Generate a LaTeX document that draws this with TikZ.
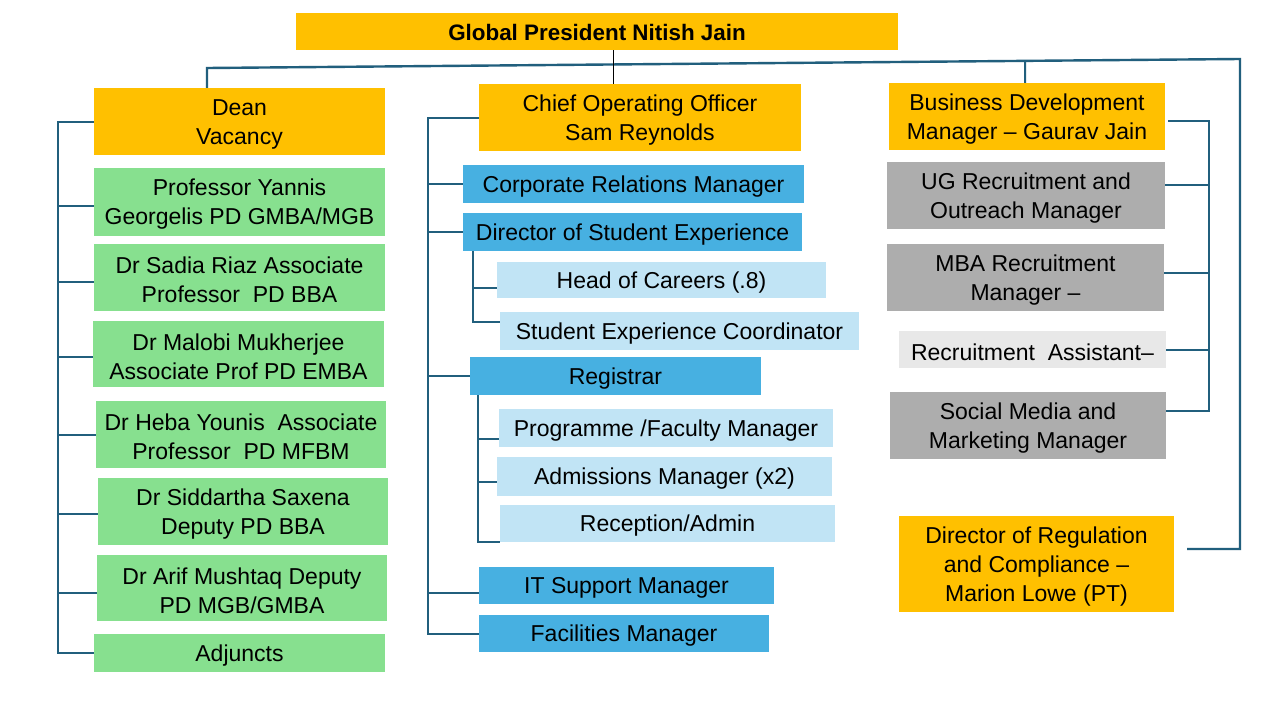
\documentclass[tikz,border=0pt]{standalone}
\usepackage{fontspec}
\setmainfont{Liberation Sans}
\usetikzlibrary{calc}
\definecolor{orgorange}{RGB}{255,192,0}
\definecolor{orggreen}{RGB}{135,224,143}
\definecolor{orgblue}{RGB}{71,176,225}
\definecolor{orglblue}{RGB}{193,228,245}
\definecolor{orggrey}{RGB}{173,173,173}
\definecolor{orglgrey}{RGB}{232,232,232}
\definecolor{orgline}{RGB}{33,95,125}
\newcommand\orgbox[7]{\node[box,#6,minimum width={#4-#2},minimum height={#5-#3},
  label={[boxtext]center:{#7}}] (#1) at ({(#2+#4)/2},{(#3+#5)/2}) {};}
\tikzset{
  box/.style={draw=none,inner sep=0pt},
  boxtext/.style={inner sep=0pt,align=center,yshift=-2.5pt,font=\fontsize{23}{29}\selectfont},
  titletext/.style={inner sep=0pt,align=center,yshift=-0.5pt,font=\fontsize{22.4}{27}\selectfont\bfseries},
  orange/.style={fill=orgorange},
  green/.style={fill=orggreen},
  blue/.style={fill=orgblue},
  lblue/.style={fill=orglblue},
  grey/.style={fill=orggrey},
  lgrey/.style={fill=orglgrey},
  conn/.style={draw=orgline,line width=2pt},
  topconn/.style={draw=orgline,line width=2.4pt},
  thinconn/.style={draw=black,line width=1pt}
}
\begin{document}
\begin{tikzpicture}[x=1pt,y=-1pt]
\useasboundingbox[fill=white] (0,0) rectangle (1280,720);
% top
\node[box,orange,minimum width=602,minimum height=37,label={[titletext]center:Global President Nitish Jain}] (pres) at (597,31.5) {};
% left column
\orgbox{dean}{94}{88}{385}{155}{orange}{Dean\\Vacancy}
\orgbox{yannis}{94}{168}{385}{236}{green}{Professor Yannis\\Georgelis PD GMBA/MGB}
\orgbox{sadia}{94}{244}{385}{311}{green}{Dr Sadia Riaz Associate\\Professor\ \ PD BBA}
\orgbox{malobi}{93}{321}{384}{387}{green}{Dr Malobi Mukherjee\\Associate Prof PD EMBA}
\orgbox{heba}{96}{401}{386}{468}{green}{Dr Heba Younis\ \ Associate\\Professor\ \ PD MFBM}
\orgbox{sidd}{98}{478}{388}{545}{green}{Dr Siddartha Saxena\\Deputy PD BBA}
\orgbox{arif}{97}{555}{387}{621}{green}{Dr Arif Mushtaq Deputy\\PD MGB/GMBA}
\orgbox{adj}{94}{634}{385}{672}{green}{Adjuncts}
% middle column
\orgbox{coo}{479}{84}{801}{151}{orange}{Chief Operating Officer\\Sam Reynolds}
\orgbox{corp}{463}{165}{804}{203}{blue}{Corporate Relations Manager}
\orgbox{dse}{463}{213}{802}{251}{blue}{Director of Student Experience}
\orgbox{hoc}{497}{262}{826}{298}{lblue}{Head of Careers (.8)}
\orgbox{sec}{500}{312}{859}{350}{lblue}{Student Experience Coordinator}
\orgbox{reg}{470}{357}{761}{395}{blue}{Registrar}
\orgbox{prog}{499}{409}{833}{447}{lblue}{Programme /Faculty Manager}
\orgbox{adm}{497}{457}{832}{496}{lblue}{Admissions Manager (x2)}
\orgbox{rec}{500}{505}{835}{542}{lblue}{Reception/Admin}
\orgbox{it}{479}{567}{774}{604}{blue}{IT Support Manager}
\orgbox{fac}{479}{615}{769}{652}{blue}{Facilities Manager}
% right column
\orgbox{bdm}{889}{83}{1165}{150}{orange}{Business Development\\Manager -- Gaurav Jain}
\orgbox{ug}{887}{162}{1165}{229}{grey}{UG Recruitment and\\Outreach Manager}
\orgbox{mba}{887}{244}{1164}{311}{grey}{MBA Recruitment\\Manager --}
\orgbox{ra}{899}{331}{1166}{368}{lgrey}{Recruitment\ \ Assistant--}
\orgbox{smm}{890}{392}{1166}{459}{grey}{Social Media and\\Marketing Manager}
\orgbox{dreg}{899}{516}{1174}{612}{orange}{Director of Regulation\\and Compliance --\\Marion Lowe (PT)}
% coordinates for connector bends
\coordinate (tl) at (207,68);
\coordinate (tr) at (1240,59);
\coordinate (cx) at (613,0);
\coordinate (lx) at (58,0);
\coordinate (mx) at (428,0);
\coordinate (dx) at (473,0);
\coordinate (rx) at (478,0);
\coordinate (bx) at (1209,0);
\coordinate (gx) at (1025,0);
% top connectors
\draw[topconn] (dean.north -| tl) -- (tl) -- (tr) -- ($(tr |- dreg.east)+(0,-15)$) -- ($(dreg.east)+(13,-15)$);
\draw[thinconn] (pres.south -| cx) -- (coo.north -| cx);
\draw[conn] ($(tl)!0.7919!(tr)$) -- (bdm.north -| gx);
% left bracket
\draw[conn] (dean.west) -- (dean.west -| lx) -- (adj.west -| lx) -- (adj.west);
\foreach \n/\d in {yannis/4,sadia/4,malobi/3,heba/0,sidd/2,arif/5}
  \draw[conn] ($(\n.west)+(0,\d)$) -- ($(\n.west -| lx)+(0,\d)$);
% middle bracket
\draw[conn] (coo.west) -- (coo.west -| mx) -- (fac.west -| mx) -- (fac.west);
\foreach \n/\d in {corp/0,dse/0,reg/0,it/7}
  \draw[conn] ($(\n.west)+(0,\d)$) -- ($(\n.west -| mx)+(0,\d)$);
% director sub-bracket
\draw[conn] (dse.south -| dx) -- ($(sec.west -| dx)+(0,-9)$) -- ($(sec.west)+(0,-9)$);
\draw[conn] ($(hoc.west)+(0,8)$) -- ($(hoc.west -| dx)+(0,8)$);
% registrar sub-bracket
\draw[conn] (reg.south -| rx) -- (rec.south west -| rx) -- (rec.south west);
\draw[conn] ($(prog.west)+(0,11)$) -- ($(prog.west -| rx)+(0,11)$);
\draw[conn] ($(adm.west)+(0,5)$) -- ($(adm.west -| rx)+(0,5)$);
% right bracket
\draw[conn] ($(bdm.east)+(3,4)$) -- ($(bdm.east -| bx)+(0,4)$) -- ($(smm.east -| bx)+(0,-15)$) -- ($(smm.east)+(0,-15)$);
\draw[conn] ($(ug.east)+(0,-11)$) -- ($(ug.east -| bx)+(0,-11)$);
\draw[conn] ($(mba.east)+(0,-5)$) -- ($(mba.east -| bx)+(0,-5)$);
\draw[conn] (ra.east) -- (ra.east -| bx);
\end{tikzpicture}
\end{document}
